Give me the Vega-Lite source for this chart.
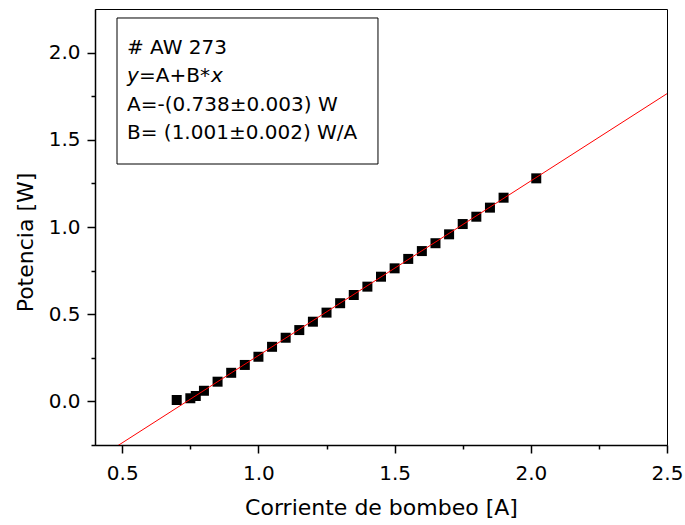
{
  "$schema": "https://vega.github.io/schema/vega-lite/v6.json",
  "width": 572,
  "height": 436,
  "autosize": {"type": "none"},
  "padding": {"left": 95, "top": 9, "right": 18, "bottom": 80},
  "background": "white",
  "config": {"view": {"stroke": "black", "strokeWidth": 1}, "font": "DejaVu Sans"},
  "datasets": {
    "points": [
      {"x": 0.70, "y": 0.008}, {"x": 0.75, "y": 0.018}, {"x": 0.77, "y": 0.031},
      {"x": 0.80, "y": 0.061}, {"x": 0.85, "y": 0.113}, {"x": 0.90, "y": 0.164},
      {"x": 0.95, "y": 0.209}, {"x": 1.00, "y": 0.256}, {"x": 1.05, "y": 0.313},
      {"x": 1.10, "y": 0.365}, {"x": 1.15, "y": 0.409}, {"x": 1.20, "y": 0.457},
      {"x": 1.25, "y": 0.509}, {"x": 1.30, "y": 0.563}, {"x": 1.35, "y": 0.610},
      {"x": 1.40, "y": 0.658}, {"x": 1.45, "y": 0.715}, {"x": 1.50, "y": 0.763},
      {"x": 1.55, "y": 0.817}, {"x": 1.60, "y": 0.862}, {"x": 1.65, "y": 0.907},
      {"x": 1.70, "y": 0.958}, {"x": 1.75, "y": 1.017}, {"x": 1.80, "y": 1.059},
      {"x": 1.85, "y": 1.111}, {"x": 1.90, "y": 1.168}, {"x": 2.02, "y": 1.279}
    ],
    "fit": [{"x": 0.4, "y": -0.3376}, {"x": 2.5, "y": 1.7645}],
    "box": [{"x": 0.4808, "x2": 1.4389, "y": 2.1984, "y2": 1.3612}],
    "labels": [
      {"x": 0.5175, "y": 1.992, "t": "# AW 273", "style": "normal"},
      {"x": 0.5175, "y": 1.829, "t": "y", "style": "italic"},
      {"x": 0.5615, "y": 1.829, "t": "=A+B*", "style": "normal"},
      {"x": 0.8258, "y": 1.829, "t": "x", "style": "italic"},
      {"x": 0.5175, "y": 1.665, "t": "A=-(0.738±0.003) W", "style": "normal"},
      {"x": 0.5175, "y": 1.502, "t": "B= (1.001±0.002) W/A", "style": "normal"}
    ]
  },
  "encoding": {
    "x": {
      "field": "x", "type": "quantitative",
      "scale": {"domain": [0.4, 2.5], "nice": false, "zero": false},
      "axis": {
        "title": "Corriente de bombeo [A]",
        "values": [0.5, 0.75, 1, 1.25, 1.5, 1.75, 2, 2.25, 2.5],
        "labelExpr": "datum.value % 0.5 === 0 ? format(datum.value, '.1f') : ''",
        "tickSize": {"condition": {"test": "datum.value % 0.5 === 0", "value": 8}, "value": 4},
        "tickWidth": 1.5, "tickColor": "black",
        "domainColor": "black", "domainWidth": 1.5,
        "grid": false,
        "labelFont": "DejaVu Sans", "labelFontSize": 20, "labelColor": "black",
        "labelPadding": 10, "labelFlush": false, "labelOverlap": false,
        "titleFont": "DejaVu Sans", "titleFontSize": 22, "titleFontWeight": "normal",
        "titleColor": "black", "titleBaseline": "alphabetic", "titleY": 69
      }
    },
    "y": {
      "field": "y", "type": "quantitative",
      "scale": {"domain": [-0.25, 2.25], "nice": false, "zero": false},
      "axis": {
        "title": "Potencia [W]",
        "values": [-0.25, 0, 0.25, 0.5, 0.75, 1, 1.25, 1.5, 1.75, 2],
        "labelExpr": "datum.value % 0.5 === 0 ? format(datum.value, '.1f') : ''",
        "tickSize": {"condition": {"test": "datum.value % 0.5 === 0", "value": 8}, "value": 4},
        "tickWidth": 1.5, "tickColor": "black",
        "domainColor": "black", "domainWidth": 1.5,
        "grid": false,
        "labelFont": "DejaVu Sans", "labelFontSize": 20, "labelColor": "black",
        "labelPadding": 7, "labelFlush": false, "labelOverlap": false,
        "titleFont": "DejaVu Sans", "titleFontSize": 22, "titleFontWeight": "normal",
        "titleColor": "black", "titleBaseline": "alphabetic", "titleAlign": "center",
        "titleX": -63, "titleY": 233, "titleAngle": 270
      }
    }
  },
  "layer": [
    {
      "data": {"name": "box"},
      "mark": {"type": "rect", "fill": "white", "stroke": "black", "strokeWidth": 1},
      "encoding": {"x2": {"field": "x2"}, "y2": {"field": "y2"}}
    },
    {
      "data": {"name": "points"},
      "mark": {"type": "point", "shape": "square", "filled": true, "color": "black", "size": 100, "opacity": 1}
    },
    {
      "data": {"name": "fit"},
      "mark": {"type": "line", "color": "#ff0000", "strokeWidth": 1, "clip": true},
      "encoding": {}
    },
    {
      "data": {"name": "labels"},
      "transform": [{"filter": "datum.style === 'normal'"}],
      "mark": {"type": "text", "align": "left", "baseline": "alphabetic", "font": "DejaVu Sans", "fontSize": 20, "color": "black"},
      "encoding": {"text": {"field": "t"}}
    },
    {
      "data": {"name": "labels"},
      "transform": [{"filter": "datum.style === 'italic'"}],
      "mark": {"type": "text", "align": "left", "baseline": "alphabetic", "font": "DejaVu Sans", "fontStyle": "italic", "fontSize": 20, "color": "black"},
      "encoding": {"text": {"field": "t"}}
    }
  ]
}
